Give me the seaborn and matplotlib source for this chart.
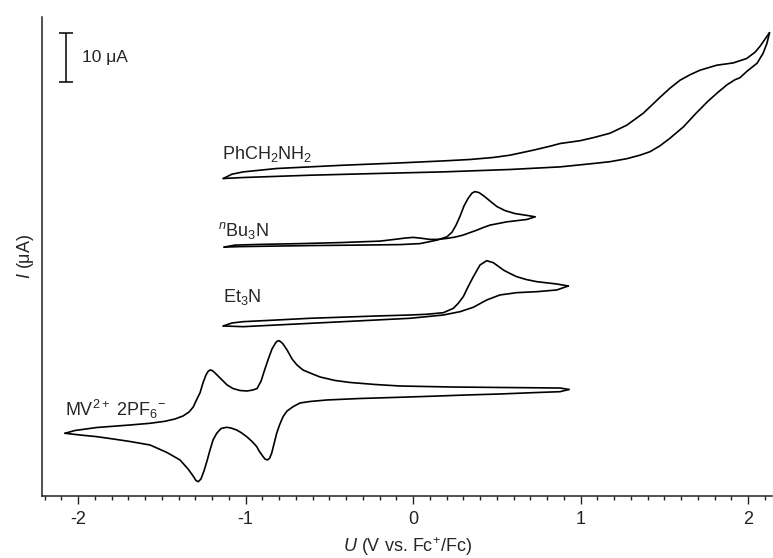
import numpy as np
import pandas as pd
import matplotlib
matplotlib.use("Agg")
import matplotlib.pyplot as plt
from matplotlib.ticker import MultipleLocator
import seaborn as sns

# ---------------- data (U in V vs Fc+/Fc, I in uA relative to left turning point) -------------
# MV2+ 2PF6-
mv_fwd_U = [-2.078, -2.018, -1.888, -1.690, -1.570, -1.481, -1.421, -1.373, -1.337, -1.312, -1.290,
            -1.272, -1.254, -1.236, -1.224, -1.212, -1.200, -1.188, -1.170, -1.140, -1.110, -1.075,
            -1.033, -0.991, -0.955, -0.931, -0.907, -0.890, -0.866, -0.842, -0.821, -0.812, -0.800,
            -0.788, -0.776, -0.752, -0.722, -0.693, -0.657, -0.615, -0.555, -0.466, -0.376, -0.227,
            -0.078, 0.221, 0.519, 0.878, 0.931]
mv_fwd_I = [0, 0.57, 1.18, 1.69, 2.04, 2.45, 2.92, 3.53, 4.35, 5.37, 7.0,
            8.22, 10.27, 11.9, 12.61, 12.92, 12.82, 12.51, 11.9, 10.88, 9.86, 9.14,
            8.73, 8.63, 8.84, 9.14, 10.67, 12.51, 14.96, 17.2, 18.43, 18.78, 18.9,
            18.63, 18.22, 17.0, 15.16, 13.94, 12.92, 12.31, 11.49, 10.78, 10.37, 9.96,
            9.65, 9.45, 9.35, 9.24, 8.94]
mv_rev_U = [-2.078, -1.988, -1.887, -1.791, -1.690, -1.570, -1.469, -1.391, -1.343, -1.313, -1.296,
            -1.282, -1.266, -1.248, -1.230, -1.212, -1.194, -1.172, -1.146, -1.112, -1.087, -1.053,
            -1.027, -0.993, -0.961, -0.933, -0.919, -0.896, -0.884, -0.870, -0.857, -0.844, -0.830,
            -0.814, -0.797, -0.776, -0.752, -0.716, -0.675, -0.615, -0.513, -0.316, -0.078, 0.119,
            0.322, 0.519, 0.716, 0.878, 0.931]
mv_rev_I = [0, -0.35, -0.69, -1.16, -1.67, -2.39, -3.92, -5.45, -7.29, -8.71, -9.63,
            -9.88, -9.33, -7.69, -5.65, -3.41, -1.37, 0, 0.98, 1.22, 1.08, 0.67,
            0.16, -0.69, -1.67, -2.73, -3.61, -4.73, -5.24, -5.45, -5.14, -4.08, -2.18,
            0, 1.69, 3.39, 4.55, 5.43, 6.18, 6.49, 6.80, 7.10, 7.35, 7.57,
            7.82, 8.02, 8.29, 8.49, 8.94]

# Et3N
et_fwd_U = [-1.133, -1.081, -1.013, -0.814, -0.615, -0.418, -0.217, -0.018, 0.082, 0.181, 0.241,
            0.269, 0.300, 0.328, 0.360, 0.400, 0.440, 0.479, 0.507, 0.539, 0.579, 0.619, 0.675,
            0.739, 0.858, 0.927]
et_fwd_I = [0, 0.61, 0.88, 1.22, 1.57, 1.80, 2.04, 2.24, 2.39, 2.71, 3.61,
            4.59, 5.98, 7.96, 10.06, 12.45, 13.33, 12.92, 12.24, 11.43, 10.71, 10.06, 9.49,
            9.04, 8.57, 8.16]
et_rev_U = [-1.133, -1.013, -0.814, -0.416, -0.018, 0.181, 0.281, 0.360, 0.440, 0.519, 0.619,
            0.739, 0.858, 0.927]
et_rev_I = [0, -0.14, 0.20, 0.88, 1.57, 2.24, 2.92, 3.82, 5.31, 6.33, 6.80,
            7.0, 7.35, 8.16]

# nBu3N
bu_fwd_U = [-1.128, -1.033, -0.913, -0.615, -0.316, -0.078, 0.042, 0.143, 0.203, 0.233, 0.257,
            0.281, 0.304, 0.328, 0.352, 0.370, 0.394, 0.424, 0.460, 0.501, 0.549, 0.609, 0.687, 0.728]
bu_fwd_I = [0, 0.10, 0.16, 0.31, 0.41, 0.51, 0.71, 1.43, 2.10, 3.06, 4.49,
            6.33, 8.37, 9.90, 11.02, 11.33, 11.12, 10.41, 9.39, 8.27, 7.45, 6.84, 6.43, 6.18]
bu_rev_U = [-1.128, -1.063, -0.913, -0.675, -0.436, -0.197, -0.096, -0.048, 0.0, 0.042, 0.101,
            0.149, 0.203, 0.251, 0.299, 0.340, 0.382, 0.418, 0.460, 0.507, 0.561, 0.609, 0.681, 0.728]
bu_rev_I = [0, 0.41, 0.55, 0.71, 0.92, 1.22, 1.63, 1.84, 1.98, 1.84, 1.57,
            1.57, 1.78, 2.04, 2.45, 2.96, 3.47, 3.98, 4.49, 4.80, 5.16, 5.35, 5.65, 6.18]

# PhCH2NH2
bz_fwd_U = [-1.133, -1.081, -1.013, -0.814, -0.416, -0.078, 0.181, 0.340, 0.479, 0.579, 0.718,
            0.818, 0.878, 0.997, 1.076, 1.176, 1.276, 1.375, 1.475, 1.534, 1.594, 1.654, 1.713,
            1.813, 1.912, 1.992, 2.042, 2.072, 2.101, 2.128]
bz_fwd_I = [0, 0.88, 1.35, 2.04, 2.71, 3.18, 3.59, 3.88, 4.29, 4.76, 5.78,
            6.59, 7.14, 7.71, 8.33, 9.24, 10.88, 13.33, 16.59, 18.43, 20.06, 21.18, 22.10,
            23.12, 23.59, 24.49, 25.78, 27.0, 28.43, 29.76]
bz_rev_U = [-1.133, -1.013, -0.615, -0.217, 0.181, 0.579, 0.878, 1.076, 1.176, 1.276, 1.355,
            1.415, 1.475, 1.534, 1.614, 1.690, 1.761, 1.821, 1.875, 1.922, 1.952, 1.994, 2.054,
            2.090, 2.113, 2.128]
bz_rev_I = [0, 0.20, 0.67, 1.02, 1.35, 1.84, 2.37, 3.06, 3.43, 4.04, 4.76,
            5.47, 6.69, 8.22, 10.53, 13.33, 15.78, 17.61, 19.14, 20.16, 20.57, 21.9, 23.53,
            25.57, 27.61, 29.76]

trace_names = ["MV", "Et3N", "Bu3N", "PhCH2NH2"]
trace_labels = [r"MV$^{2+}$ 2PF$_6$$^{-}$", r"Et$_3$N", r"$^{\mathit{n}}$Bu$_3$N",
                r"PhCH$_2$NH$_2$"]
trace_offsets = [12.8, 34.7, 50.8, 64.8]   # vertical stacking of the traces (uA)
scale_bar_uA = 10

traces = {
    "MV": (mv_fwd_U, mv_fwd_I, mv_rev_U, mv_rev_I),
    "Et3N": (et_fwd_U, et_fwd_I, et_rev_U, et_rev_I),
    "Bu3N": (bu_fwd_U, bu_fwd_I, bu_rev_U, bu_rev_I),
    "PhCH2NH2": (bz_fwd_U, bz_fwd_I, bz_rev_U, bz_rev_I),
}

frames = []
for name, off in zip(trace_names, trace_offsets):
    fu, fi, ru, ri = traces[name]
    frames.append(pd.DataFrame({"U": fu, "I": np.asarray(fi) + off, "seg": name + "_fwd"}))
    frames.append(pd.DataFrame({"U": ru, "I": np.asarray(ri) + off, "seg": name + "_rev"}))
df = pd.concat(frames, ignore_index=True)

# ---------------- style ----------------
sns.set_style("ticks")
plt.rcParams["font.family"] = ["Liberation Sans", "DejaVu Sans"]
plt.rcParams["mathtext.fontset"] = "custom"
plt.rcParams["mathtext.rm"] = "Liberation Sans"
plt.rcParams["mathtext.it"] = "Liberation Sans:italic"
plt.rcParams["mathtext.default"] = "regular"
plt.rcParams["axes.unicode_minus"] = False

fig = plt.figure(figsize=(7.73, 5.58), dpi=100)
ax = fig.add_axes([42 / 773, 62 / 558, 730 / 773, 479 / 558])

sns.lineplot(data=df, x="U", y="I", units="seg", estimator=None, sort=False,
             color="black", lw=1.2, ax=ax, legend=False)
for ln in ax.lines:
    ln.set_solid_joinstyle("round")

ax.set_xlim(-2.215, 2.143)
ax.set_ylim(0, 97.76)
ax.set_xticks([-2, -1, 0, 1, 2])
ax.xaxis.set_minor_locator(MultipleLocator(0.1))
ax.set_yticks([])
ax.tick_params(axis="x", which="major", length=6, width=1.0, direction="out",
               labelsize=13, pad=5, colors="#222222")
ax.tick_params(axis="x", which="minor", length=3, width=1.0, direction="out", colors="#222222")
for s in ["top", "right"]:
    ax.spines[s].set_visible(False)
for s in ["left", "bottom"]:
    ax.spines[s].set_linewidth(1.1)
    ax.spines[s].set_color("#222222")

ax.set_xlabel(r"$\mathit{U}$ (V vs. Fc$^{+}$/Fc)", fontsize=13, labelpad=5)
ax.set_ylabel(r"$\mathit{I}$ ($\mu$A)", fontsize=13, labelpad=4)

# trace labels
label_pos = [(-2.078, 16.3), (-1.133, 39.5), (-1.164, 53.0), (-1.140, 68.7)]
for lab, (lx, ly) in zip(trace_labels, label_pos):
    ax.text(lx, ly, lab, fontsize=13, ha="left", va="baseline")

# scale bar
ax.errorbar([-2.072], [89.5], yerr=scale_bar_uA / 2, color="black", lw=1.1,
            capsize=4.7, capthick=1.1, fmt="none")
ax.text(-1.976, 89.5, f"{scale_bar_uA} μA", fontsize=12.5, ha="left", va="center")

fig.savefig("out.png", dpi=100)
